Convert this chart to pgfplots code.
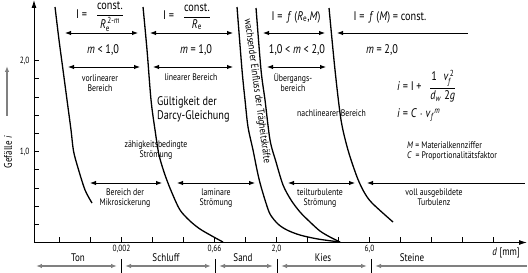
\documentclass[border=0pt]{standalone}
\usepackage{fontspec}
\setmainfont{PT Sans}[FakeStretch=0.82]
\usepackage{amsmath}
\usepackage{pgfplots}
\pgfplotsset{compat=1.18}
\usetikzlibrary{arrows.meta}

\newcommand{\mi}[1]{\textit{#1}}
\tikzset{
  dbl/.style={{Latex[length=6pt,width=4.5pt]}-{Latex[length=6pt,width=4.5pt]}, line width=0.9pt},
  lft/.style={{Latex[length=6pt,width=4.5pt]}-, line width=0.9pt},
  gdbl/.style={{Latex[length=6pt,width=4.5pt]}-{Latex[length=6pt,width=4.5pt]}, line width=1.3pt, gray},
  gl/.style={{Latex[length=6pt,width=4.5pt]}-, line width=1.3pt, gray},
  lab/.style={font=\fontsize{9.5}{10}\selectfont, align=center, inner sep=0pt},
  big/.style={font=\fontsize{11}{12}\selectfont, align=center, inner sep=0pt},
  frm/.style={font=\fontsize{12.5}{13}\selectfont, align=center, inner sep=0pt},
}

\begin{document}
\begin{tikzpicture}
\begin{axis}[
  name=ax, at={(0,0)}, anchor=south west,
  scale only axis, width=493pt, height=242.5pt,
  xmin=0.177, xmax=16.08, ymin=0, ymax=2.665,
  axis lines=left,
  axis line style={line width=0.9pt, -{Latex[length=8pt,width=5pt]}},
  tick align=inside,
  major tick length=5pt, minor tick length=5pt,
  tick style={black, line width=0.8pt},
  xtick={1,...,15},
  xticklabels={,,{0,002},,,{0,66},,{2,0},,,{6,0},,,,},
  ytick={1,2}, yticklabels={{1,0},{2,0}},
  minor ytick={0.2,0.4,0.6,0.8,1.2,1.4,1.6,1.8},
  ticklabel style={font=\fontsize{9}{10}\selectfont},
  xticklabel style={yshift=1pt},
  yticklabel style={xshift=-1pt},
  clip=false,
]
% Kurve 1: Mikrosickerung / vorlinear
\addplot[black, line width=1.3pt, smooth] coordinates {
  (0.855,2.588) (0.984,2.225) (1.113,1.896) (1.242,1.566) (1.371,1.236)
  (1.452,1.005) (1.597,0.819) (1.823,0.577) (2.048,0.434)};
% Kurve 2: linear
\addplot[black, line width=1.3pt, smooth] coordinates {
  (3.694,2.588) (3.823,2.115) (3.952,1.566) (4.081,1.236) (4.210,0.962)
  (4.403,0.742) (4.629,0.544) (4.887,0.357) (5.210,0.236) (5.532,0.148)
  (5.919,0.071) (6.274,0.005)};
% Kurve 3 und 4: Band der Traegheitskraefte
\addplot[black, line width=1.3pt, smooth] coordinates {
  (6.726,2.588) (6.887,1.896) (6.984,1.566) (7.081,1.269) (7.242,1.016)
  (7.371,0.797) (7.468,0.654) (7.629,0.467) (7.790,0.313) (8.048,0.203)
  (8.339,0.137) (8.758,0.082) (9.339,0.038) (10.048,0.005)};
\addplot[black, line width=1.3pt, smooth] coordinates {
  (7.339,2.577) (7.500,1.896) (7.629,1.566) (7.790,1.126) (7.984,0.885)
  (8.210,0.632) (8.468,0.467) (8.758,0.335) (9.081,0.225) (9.403,0.126)
  (9.726,0.060) (10.048,0.005)};
% Kurve 5: nachlinear
\addplot[black, line width=1.3pt, smooth] coordinates {
  (9.694,2.577) (9.887,1.896) (10.081,1.346) (10.306,1.016) (10.597,0.720)
  (10.823,0.555) (11.081,0.434) (11.758,0.225)};
\end{axis}

\begin{scope}[x=1pt, y=-1pt, shift={(-34pt,242.5pt)}]
% Achsbeschriftungen
\node[big, rotate=90] at (8,152) {Gefälle \mi{i}};
\draw[line width=1.1pt, gray, -{Latex[length=6pt,width=4.5pt]}] (7,116) -- (7,66);
\node[big, anchor=base] at (506,256) {\mi{d} [mm]};

% Zeile 1
\node[frm] at (100,17) {I = \; $\dfrac{\text{const.}}{\mi{R}_{\text{e}}^{\,\text{2-}\mi{m}}}$};
\node[frm] at (187,17) {I = \; $\dfrac{\text{const.}}{\mi{R}_{\text{e}}}$};
\node[frm] at (296,17) {I = \,\mi{f} (\mi{R}\textsubscript{e},\mi{M})};
\node[frm] at (390,17) {I = \,\mi{f} (\mi{M}) = const.};
\draw[dbl] (65,33) -- (138,33);
\draw[dbl] (150,33) -- (233,33);
\draw[dbl] (263,33) -- (325,33);
\draw[lft] (337,33) -- (468,33);

% Zeile 2
\node[frm] at (103,50) {\mi{m} < 1,0};
\node[frm] at (196,50) {\mi{m} = 1,0};
\node[frm] at (297,50) {1,0 < \mi{m} < 2,0};
\node[frm] at (382,50) {\mi{m} = 2,0};
\draw[dbl] (68,67) -- (140,67);
\draw[dbl] (153,67) -- (233,67);
\draw[dbl] (267,67) -- (326,67);

% Zeile 3
\node[lab] at (100,83) {vorlinearer\\Bereich};
\node[lab] at (191,77) {linearer Bereich};
\node[lab] at (293,83) {Übergangs-\\bereich};
\node[font=\fontsize{12.5}{14}\selectfont, align=left, inner sep=0pt, anchor=north west] at (157,96) {Gültigkeit der\\Darcy-Gleichung};
\node[lab] at (156,150) {zähigkeitsbedingte\\Strömung};
\node[lab, anchor=west] at (297,113) {nachlinearer Bereich};
\node[font=\fontsize{10.5}{11}\selectfont, inner sep=0pt, rotate=-82.3] at (257,91) {wachsender Einfluss der Trägheitskräfte};

% Formeln
\node[frm, anchor=west] at (397,86) {\mi{i} = I + \, $\dfrac{\text{1}\;\;\mi{v}_{\mi{f}}^{\,\text{2}}}{\mi{d}_{\mi{w}}\;\text{2}\mi{g}}$};
\node[frm, anchor=west] at (397,115) {\mi{i} = \mi{C} $\cdot$ \mi{v}\textsubscript{\mi{f}}\textsuperscript{\mi{m}}};
\node[lab, anchor=west, align=left] at (407,151) {\mi{M} = Materialkennziffer\\\mi{C}\, = Proportionalitätsfaktor};

% Zeile 4
\draw[dbl] (90,183) -- (162,183);
\draw[dbl] (177,183) -- (255,183);
\draw[dbl] (288,183) -- (355,183);
\draw[lft] (367,183) -- (525,183);
\node[lab] at (125,198) {Bereich der\\Mikrosickerung};
\node[lab] at (216,198) {laminare\\Strömung};
\node[lab] at (320,198) {teilturbulente\\Strömung};
\node[lab] at (434,197) {voll ausgebildete\\Turbulenz};

% Bodenarten
\node[big, anchor=base] at (78,262) {Ton};
\node[big, anchor=base] at (166,262) {Schluff};
\node[big, anchor=base] at (243,262) {Sand};
\node[big, anchor=base] at (323,262) {Kies};
\node[big, anchor=base] at (412,262) {Steine};
\draw[gdbl] (36,266) -- (117,266);
\draw[gdbl] (125,266) -- (211,266);
\draw[gdbl] (219,266) -- (273,266);
\draw[gdbl] (281,266) -- (367,266);
\draw[gl] (375,266) -- (527,266);
\foreach \p in {121,215,277,371} \draw[line width=1pt] (\p,259) -- (\p,273);
\end{scope}

\pgfresetboundingbox
\useasboundingbox (-34pt,-30.5pt) rectangle (494pt,242.5pt);
\end{tikzpicture}
\end{document}
